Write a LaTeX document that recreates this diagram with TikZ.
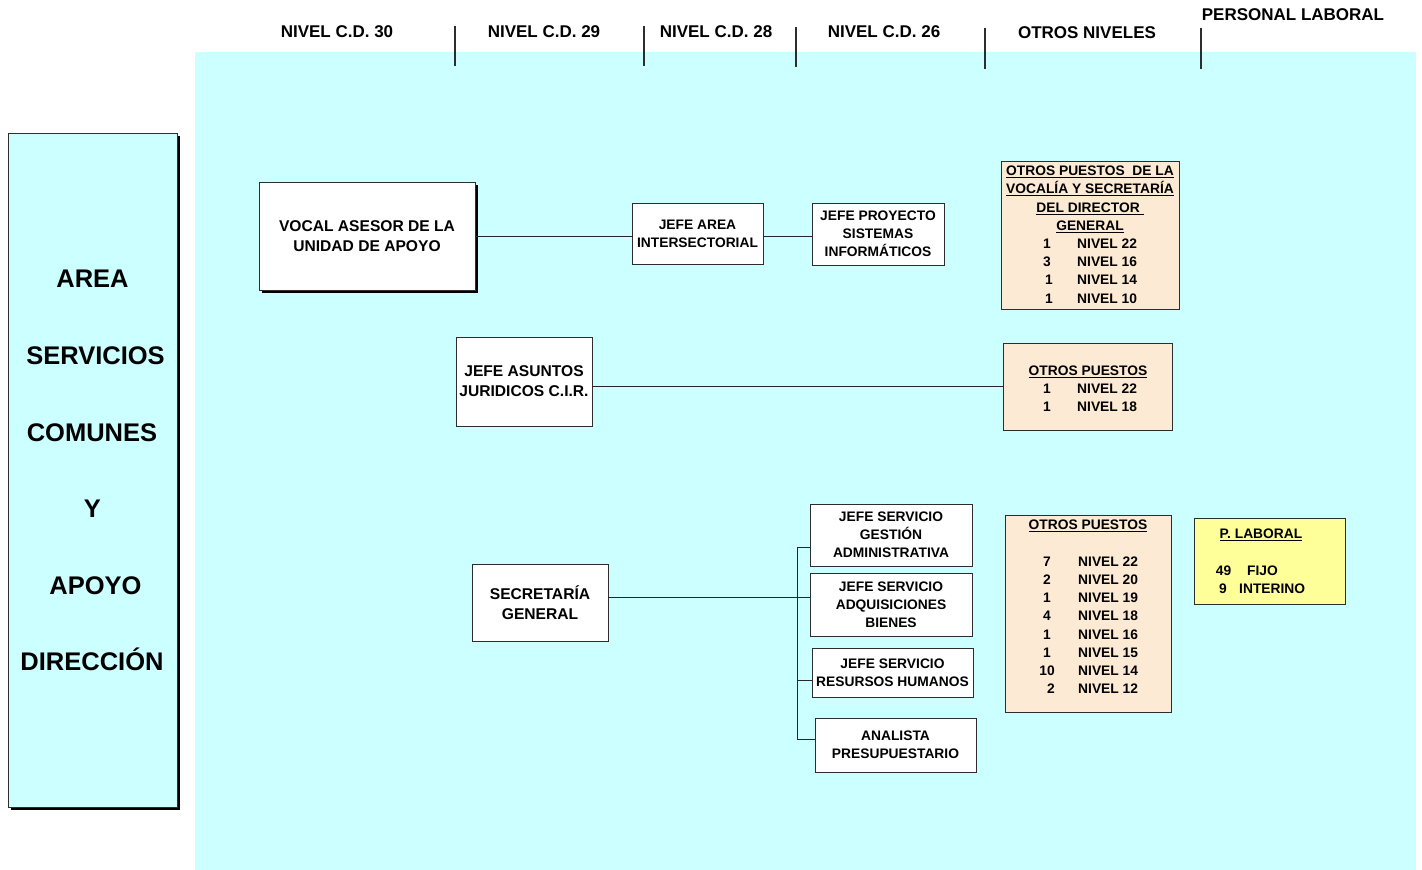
\documentclass[tikz,border=0pt]{standalone}
\usepackage{fontspec}
\setmainfont{Liberation Sans}
\usetikzlibrary{shadows}
\definecolor{bgcyan}{RGB}{204,255,255}
\definecolor{peach}{RGB}{253,234,212}
\definecolor{lyellow}{RGB}{255,255,153}
\definecolor{edgec}{RGB}{45,45,45}
\newcommand\myul[1]{\setbox0\hbox{#1}\rlap{\rule[-3pt]{\wd0}{1.5pt}}\box0}
\begin{document}
\begin{tikzpicture}[x=1pt,y=-1pt,
  hdr/.style={font=\fontsize{17}{20}\selectfont\bfseries, inner sep=0},
  box/.style={draw=edgec, line width=0.9pt, fill=white, inner sep=0, align=center,
              font=\fontsize{13.8}{18}\selectfont\bfseries},
  bigbox/.style={box, font=\fontsize{15.6}{20}\selectfont\bfseries},
  ln/.style={inner sep=0, anchor=base, font=\fontsize{13.8}{18}\selectfont\bfseries},
  lnw/.style={ln, anchor=base west},
  lefttxt/.style={inner sep=0, anchor=base, font=\fontsize{25.5}{30}\selectfont\bfseries},
  sepline/.style={draw=edgec, line width=1.2pt},
  conn/.style={draw=black!85, line width=0.9pt},
  shad/.style={drop shadow={shadow xshift=3pt, shadow yshift=-3pt, fill=black, opacity=1}}
]
\useasboundingbox (0,0) rectangle (1422,870);
\fill[bgcyan] (195,52) rectangle (1416,870);

% headers
\node[hdr] (h30) at (337,32) {NIVEL C.D. 30};
\node[hdr] (h29) at (544,32) {NIVEL C.D. 29};
\node[hdr] (h28) at (716,32) {NIVEL C.D. 28};
\node[hdr] (h26) at (884,32) {NIVEL C.D. 26};
\node[hdr] (hot) at (1087,33) {OTROS NIVELES};
\node[hdr] (hpl) at (1293,15) {PERSONAL LABORAL};
\draw[sepline] (455,26) -- (455,66);
\draw[sepline] (644,26) -- (644,66);
\draw[sepline] (796,27) -- (796,67);
\draw[sepline] (985,28) -- (985,69);
\draw[sepline] (1201,28) -- (1201,69);

% left box
\node[box, fill=bgcyan, shad, minimum width=169, minimum height=674] (left) at (92.5,470) {};
\foreach \t/\x/\y [count=\i] in {AREA/92.5/287, SERVICIOS/95.5/364, COMUNES/92/441, Y/92.5/517, APOYO/95.5/594, DIRECCIÓN/92/670}
  \node[lefttxt] (lt\i) at (\x,\y) {\t};

% main boxes
\node[bigbox, shad, minimum width=216, minimum height=108] (vocal) at (367,236) {VOCAL ASESOR DE LA\\UNIDAD DE APOYO};
\node[box, minimum width=131, minimum height=61] (jarea) at (697.5,233.5) {JEFE AREA\\INTERSECTORIAL};
\node[box, minimum width=132, minimum height=62] (jproy) at (878,234) {JEFE PROYECTO\\SISTEMAS\\INFORMÁTICOS};
\node[bigbox, minimum width=136, minimum height=89] (asuntos) at (524,381.5) {JEFE ASUNTOS\\JURIDICOS C.I.R.};
\node[bigbox, minimum width=136, minimum height=77] (sec) at (540,602.5) {SECRETARÍA\\GENERAL};
\node[box, minimum width=162, minimum height=62] (gest) at (891,535) {JEFE SERVICIO\\GESTIÓN\\ADMINISTRATIVA};
\node[box, minimum width=162, minimum height=63] (adq) at (891,604.5) {JEFE SERVICIO\\ADQUISICIONES\\BIENES};
\node[box, minimum width=161, minimum height=49] (rrhh) at (892.5,672.5) {JEFE SERVICIO\\RESURSOS HUMANOS};
\node[box, minimum width=161, minimum height=54] (anal) at (895.5,745) {ANALISTA\\PRESUPUESTARIO};

% otros puestos boxes
\node[box, fill=peach, minimum width=178, minimum height=148] (otros1) at (1090,235) {};
\node[box, fill=peach, minimum width=169, minimum height=87] (otros2) at (1087.5,386.5) {};
\node[box, fill=peach, minimum width=166, minimum height=197] (otros3) at (1088,613.5) {};
\node[box, fill=lyellow, minimum width=151, minimum height=86] (plab) at (1269.5,561) {};

% box 1 text
\node[ln] (o1a) at (1090,175) {\myul{OTROS PUESTOS\ \ DE LA}};
\node[ln] (o1b) at (1090,193) {\myul{VOCALÍA Y SECRETARÍA}};
\node[ln] (o1c) at (1090,212) {\myul{DEL DIRECTOR\ }};
\node[ln] (o1d) at (1090,230) {\myul{GENERAL}};
\foreach \n/\x/\t/\y [count=\i] in {1/1047/NIVEL 22/248, 3/1047/NIVEL 16/266, 1/1049/NIVEL 14/284, 1/1049/NIVEL 10/303}{
  \node[ln] (o1n\i) at (\x,\y) {\n};
  \node[lnw] (o1t\i) at (1077,\y) {\t};
}

% box 2 text
\node[ln] (o2a) at (1088,375) {\myul{OTROS PUESTOS}};
\foreach \n/\t/\y [count=\i] in {1/NIVEL 22/393, 1/NIVEL 18/411}{
  \node[ln] (o2n\i) at (1047,\y) {\n};
  \node[lnw] (o2t\i) at (1077,\y) {\t};
}

% box 3 text
\node[ln] (o3a) at (1088,529) {\myul{OTROS PUESTOS}};
\foreach \n/\x/\t/\y [count=\i] in {7/1047/NIVEL 22/566, 2/1047/NIVEL 20/584, 1/1047/NIVEL 19/602, 4/1047/NIVEL 18/620, 1/1047/NIVEL 16/639, 1/1047/NIVEL 15/657, 10/1047/NIVEL 14/675, 2/1051/NIVEL 12/693}{
  \node[ln] (o3n\i) at (\x,\y) {\n};
  \node[lnw] (o3t\i) at (1078,\y) {\t};
}

% personal laboral text
\node[ln] (pla) at (1261,538) {\myul{P. LABORAL}};
\node[ln] (pln1) at (1223.5,575) {49};
\node[lnw] (plt1) at (1247,575) {FIJO};
\node[ln] (pln2) at (1223,593) {9};
\node[lnw] (plt2) at (1239,593) {INTERINO};

% connectors
\draw[conn] (vocal.east) -- (vocal.east -| jarea.west);
\draw[conn] (vocal.east -| jarea.east) -- (vocal.east -| jproy.west);
\draw[conn] (asuntos.east |- otros2.west) -- (otros2.west);
\coordinate (bmid) at (797,597);
\coordinate (btop) at (797,547);
\coordinate (brr) at (797,680);
\coordinate (bbot) at (797,739);
\draw[conn] (sec.east |- bmid) -- (bmid -| adq.west);
\draw[conn] (btop) -- (bbot);
\draw[conn] (btop) -- (btop -| gest.west);
\draw[conn] (brr) -- (brr -| rrhh.west);
\draw[conn] (bbot) -- (bbot -| anal.west);
\end{tikzpicture}
\end{document}
